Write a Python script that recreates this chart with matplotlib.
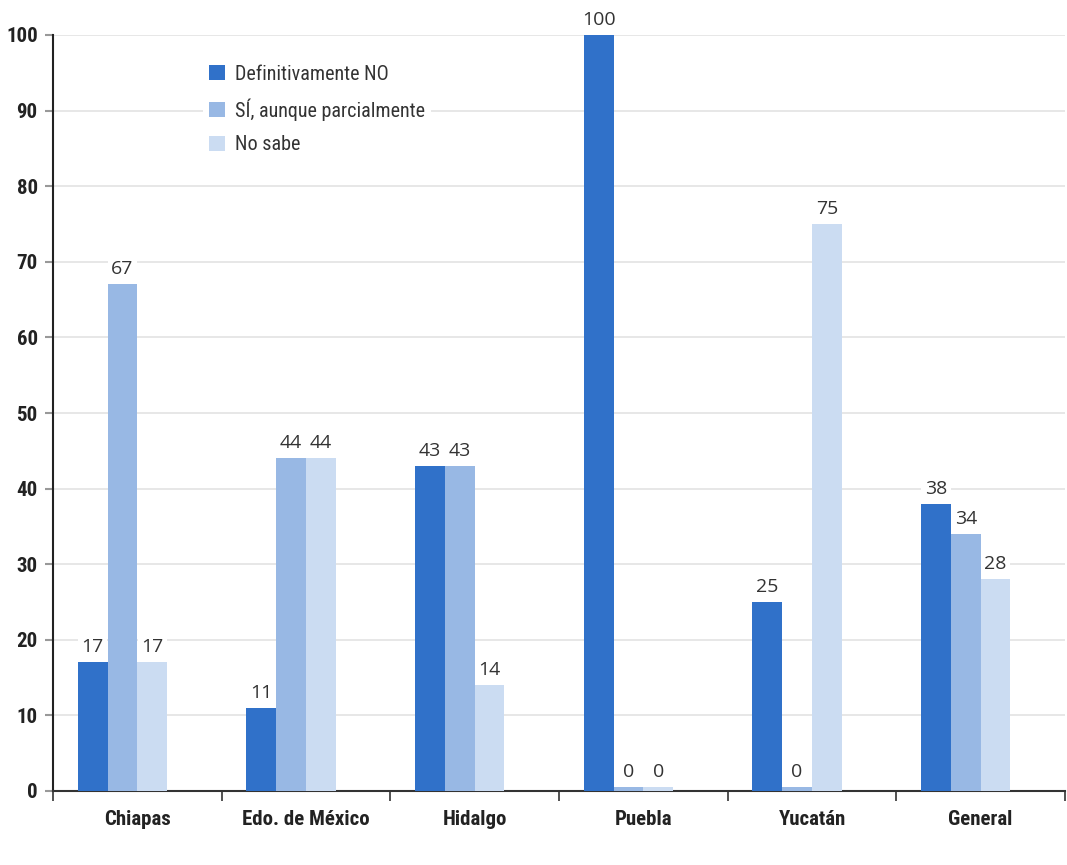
import numpy as np
import matplotlib
matplotlib.use('Agg')
import matplotlib.pyplot as plt
from matplotlib import font_manager

categories = ['Chiapas', 'Edo. de México', 'Hidalgo', 'Puebla', 'Yucatán', 'General']
series_names = ['Definitivamente NO', 'SÍ, aunque parcialmente', 'No sabe']
definitivamente_no = [17, 11, 43, 100, 25, 38]
si_parcialmente = [67, 44, 43, 0, 0, 34]
no_sabe = [17, 44, 14, 0, 75, 28]
colors = ['#3071c9', '#98b8e4', '#cbdcf2']

series = [definitivamente_no, si_parcialmente, no_sabe]

# pick a narrow face for axis text if one is installed
installed = {f.name for f in font_manager.fontManager.ttflist}
narrow = [n for n in ['Liberation Sans Narrow', 'DejaVu Sans Condensed', 'Roboto Condensed',
                      'Open Sans Condensed', 'Noto Sans Condensed'] if n in installed]
axis_font = narrow[:1] + ['DejaVu Sans']
label_font = ['Open Sans', 'DejaVu Sans']

fig = plt.figure(figsize=(10.67, 8.65), dpi=100)
ax = fig.add_axes([53 / 1067, 1 - 791 / 865, 1012 / 1067, 756 / 865])

x = np.arange(len(categories))
bar_w = 30 / 170
shift = -15 / 170
min_len = 0.5  # zero values still show a thin sliver

handles = []
for i, (vals, col) in enumerate(zip(series, colors)):
    pos = x + shift + (i - 1) * bar_w
    h = ax.bar(pos, np.maximum(vals, min_len), width=bar_w, color=col,
               linewidth=0, zorder=3, label=series_names[i])
    handles.append(h)
    for px, v in zip(pos, vals):
        ax.text(px, max(v, min_len) + 0.8, f'{v}', ha='center', va='bottom',
                fontsize=14, family=label_font, color='#333333', zorder=4,
                bbox=dict(facecolor='white', edgecolor='none', pad=2.5))

ax.set_xlim(-0.5, -0.5 + 1012 / 170)
ax.set_ylim(0, 100)
ax.set_yticks(range(0, 101, 10))
ax.set_xticks(x)
ax.set_xticklabels(categories)
ax.set_xticks(np.arange(-0.5, 6, 1), minor=True)
ax.grid(axis='y', color='#e3e3e3', linewidth=1.2, zorder=0)
ax.set_axisbelow(True)

for s in ['top', 'right']:
    ax.spines[s].set_visible(False)
ax.spines['left'].set_color('#222222')
ax.spines['bottom'].set_color('#333333')
ax.spines['left'].set_linewidth(1.5)
ax.spines['bottom'].set_linewidth(1.5)

ax.tick_params(axis='y', length=6, width=1.5, color='#999999', pad=5)
ax.tick_params(axis='x', which='major', length=0, pad=14)
ax.tick_params(axis='x', which='minor', length=7, width=1.2, color='#333333')
tick_size = 15 if narrow else 13
for lab in ax.get_yticklabels() + ax.get_xticklabels():
    lab.set_family(axis_font)
    lab.set_fontweight('bold')
    lab.set_fontsize(tick_size)
    lab.set_color('#222222')

leg = ax.legend(handles=handles, loc='upper left', bbox_to_anchor=(0.138, 0.982),
                frameon=True, facecolor='white', edgecolor='none', framealpha=1,
                prop={'family': axis_font, 'size': 14.5 if narrow else 13},
                handlelength=0.8, handleheight=0.8, handletextpad=0.5,
                labelspacing=0.72, borderpad=0.3)
for t in leg.get_texts():
    t.set_color('#333333')

fig.savefig('out.png', dpi=100)
